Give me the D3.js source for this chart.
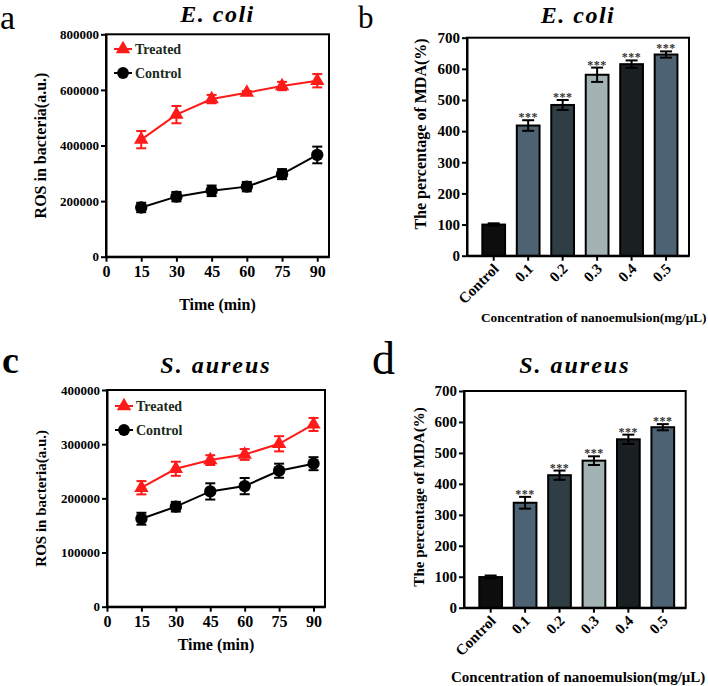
<!DOCTYPE html>
<html><head><meta charset="utf-8">
<script src="https://cdn.jsdelivr.net/npm/d3@7"></script>
<style>body{margin:0;background:#fff}svg{display:block}text{font-family:"Liberation Serif","Times New Roman",serif}</style>
</head><body><svg id="c" width="708" height="686"></svg>
<script>
// ---- data ----
const times = [15, 30, 45, 60, 75, 90];
const timeTicks = [0, 15, 30, 45, 60, 75, 90];
const ecoliTreated = [421000, 511000, 567000, 590000, 614000, 633000];
const ecoliTreatedErr = [31000, 31000, 15000, 6000, 15000, 24000];
const ecoliControl = [177000, 216000, 237000, 252000, 297000, 366000];
const ecoliControlErr = [17000, 17000, 19000, 17000, 18000, 30000];
const saureusTreated = [219600, 254600, 270600, 281000, 300700, 336400];
const saureusTreatedErr = [12300, 13000, 9000, 10000, 14000, 12000];
const saureusControl = [162400, 184600, 212800, 222600, 251000, 264000];
const saureusControlErr = [11000, 9000, 15000, 15000, 13000, 12000];
const ecoliRosTicks = [0, 200000, 400000, 600000, 800000];
const saureusRosTicks = [0, 100000, 200000, 300000, 400000];
const concCategories = ["Control", "0.1", "0.2", "0.3", "0.4", "0.5"];
const ecoliMDA = [100, 418, 484, 581, 615, 646];
const ecoliMDAErr = [4, 17, 16, 23, 12, 10];
const saureusMDA = [99, 339, 428, 475, 544, 583];
const saureusMDAErr = [5, 19, 15, 14, 15, 10];
const mdaTicks = [0, 100, 200, 300, 400, 500, 600, 700];
const barColors = ["#0d0d0d", "#4d6272", "#2f3d44", "#a3b3b3", "#1a1f22", "#4d6272"];
const sig = ["", "***", "***", "***", "***", "***"];

const svg = d3.select("#c");
const RED = "#ff1a1a";
const SERIF = '"Liberation Serif","Times New Roman",serif';

function frame(g, L, R, T, B) {
  g.append("rect").attr("x", L).attr("y", T).attr("width", R - L).attr("height", B - T)
    .attr("fill", "none").attr("stroke", "#000").attr("stroke-width", 2);
}

function styleAxis(a, size) {
  a.attr("font-family", SERIF);
  a.select(".domain").attr("stroke-width", 2);
  a.selectAll(".tick line").attr("stroke-width", 2);
  a.selectAll("text").attr("font-size", size).attr("font-weight", "bold").attr("fill", "#000");
}

function lineChart(o) {
  const g = svg.append("g");
  const x = d3.scaleLinear().domain([0, 95]).range([o.L, o.R]);
  const y = d3.scaleLinear().domain([0, o.ymax]).range([o.B, o.T]);
  frame(g, o.L, o.R, o.T, o.B);
  const ya = g.append("g").attr("transform", `translate(${o.L},0)`)
    .call(d3.axisLeft(y).tickValues(o.yticks).tickFormat(d3.format("d")).tickSize(5).tickSizeOuter(0).tickPadding(2));
  const xa = g.append("g").attr("transform", `translate(0,${o.B})`)
    .call(d3.axisBottom(x).tickValues(timeTicks).tickSize(5).tickSizeOuter(0).tickPadding(4));
  styleAxis(ya, 13);
  styleAxis(xa, 16);

  const series = [
    {v: o.control, e: o.controlErr, c: "#000", m: "circle"},
    {v: o.treated, e: o.treatedErr, c: RED, m: "triangle"}
  ];
  series.forEach(s => {
    const pts = times.map((t, i) => ({t, v: s.v[i], e: s.e[i]}));
    g.append("path").datum(pts).attr("fill", "none").attr("stroke", s.c).attr("stroke-width", 2)
      .attr("d", d3.line().x(d => x(d.t)).y(d => y(d.v)));
    const eg = g.append("g").attr("stroke", s.c).attr("stroke-width", 2);
    pts.forEach(d => {
      const cx = x(d.t), y1 = y(d.v + d.e), y2 = y(d.v - d.e);
      eg.append("line").attr("x1", cx).attr("x2", cx).attr("y1", y1).attr("y2", y2);
      eg.append("line").attr("x1", cx - 5).attr("x2", cx + 5).attr("y1", y1).attr("y2", y1);
      eg.append("line").attr("x1", cx - 5).attr("x2", cx + 5).attr("y1", y2).attr("y2", y2);
    });
    const sym = d3.symbol().type(s.m === "circle" ? d3.symbolCircle : d3.symbolTriangle).size(s.m === "circle" ? 120 : 90);
    g.selectAll(null).data(pts).enter().append("path").attr("d", sym)
      .attr("transform", d => `translate(${x(d.t)},${y(d.v)})`).attr("fill", s.c);
  });

  // legend
  const leg = [
    {label: "Treated", c: RED, m: d3.symbolTriangle, sz: 90, y: o.legY},
    {label: "Control", c: "#000", m: d3.symbolCircle, sz: 110, y: o.legY + 24}
  ];
  leg.forEach(l => {
    g.append("line").attr("x1", o.L + 8).attr("x2", o.L + 26).attr("y1", l.y).attr("y2", l.y).attr("stroke", l.c).attr("stroke-width", 2);
    g.append("path").attr("d", d3.symbol().type(l.m).size(l.sz)).attr("transform", `translate(${o.L + 17},${l.y})`).attr("fill", l.c);
    g.append("text").attr("x", o.L + 29).attr("y", l.y + 5).attr("font-size", 14).attr("font-weight", "bold").attr("fill", "#1a2a1a").text(l.label);
  });

  g.append("text").attr("x", (o.L + o.R) / 2).attr("y", o.titleY).attr("text-anchor", "middle")
    .attr("font-size", 24).attr("font-weight", "bold").attr("font-style", "italic").attr("letter-spacing", o.ls)
    .text(o.title);
  g.append("text").attr("transform", `translate(${o.ylabX},${(o.T + o.B) / 2}) rotate(-90)`).attr("text-anchor", "middle")
    .attr("font-size", o.ylabSize).attr("font-weight", "bold").text("ROS in bacteria(a.u.)");
  g.append("text").attr("x", (o.L + o.R) / 2).attr("y", o.xlabY).attr("text-anchor", "middle")
    .attr("font-size", 16).attr("font-weight", "bold").text("Time (min)");
}

function barChart(o) {
  const g = svg.append("g");
  const x = d3.scaleBand().domain(concCategories).range([o.L, o.R]).paddingInner(0.34).paddingOuter(0.39).align(0.57);
  const y = d3.scaleLinear().domain([0, 700]).range([o.B, o.T]);
  frame(g, o.L, o.R, o.T, o.B);
  g.selectAll(null).data(concCategories).enter().append("rect")
    .attr("x", d => x(d)).attr("width", x.bandwidth())
    .attr("y", (d, i) => y(o.vals[i])).attr("height", (d, i) => o.B - y(o.vals[i]))
    .attr("fill", (d, i) => barColors[i]).attr("stroke", "#000").attr("stroke-width", 2);
  const eg = g.append("g").attr("stroke", "#000").attr("stroke-width", 2);
  concCategories.forEach((c, i) => {
    const cx = x(c) + x.bandwidth() / 2, y1 = y(o.vals[i] + o.errs[i]), y2 = y(o.vals[i] - o.errs[i]);
    eg.append("line").attr("x1", cx).attr("x2", cx).attr("y1", y1).attr("y2", y2);
    eg.append("line").attr("x1", cx - 6).attr("x2", cx + 6).attr("y1", y1).attr("y2", y1);
    eg.append("line").attr("x1", cx - 6).attr("x2", cx + 6).attr("y1", y2).attr("y2", y2);
    if (sig[i]) g.append("text").attr("x", cx).attr("y", y1 + 1).attr("text-anchor", "middle")
      .attr("font-size", 12).attr("font-weight", "bold").attr("fill", "#333").attr("letter-spacing", 0.5).text(sig[i]);
  });
  const ya = g.append("g").attr("transform", `translate(${o.L},0)`)
    .call(d3.axisLeft(y).tickValues(mdaTicks).tickSize(5).tickSizeOuter(0).tickPadding(2));
  const xa = g.append("g").attr("transform", `translate(0,${o.B})`)
    .call(d3.axisBottom(x).tickSize(5).tickSizeOuter(0));
  styleAxis(ya, 15);
  styleAxis(xa, 15);
  xa.selectAll("text").attr("text-anchor", "end").attr("dy", 0).attr("y", 0)
    .attr("transform", "translate(6,14) rotate(-45)");

  g.append("text").attr("x", (o.L + o.R) / 2).attr("y", o.titleY).attr("text-anchor", "middle")
    .attr("font-size", 24).attr("font-weight", "bold").attr("font-style", "italic").attr("letter-spacing", o.ls)
    .text(o.title);
  g.append("text").attr("transform", `translate(${o.ylabX},${o.ylabC}) rotate(-90)`).attr("text-anchor", "middle")
    .attr("font-size", o.ylabSize).attr("font-weight", "bold").text("The percentage of MDA(%)");
  g.append("text").attr("x", o.xlabX).attr("y", o.xlabY).attr("text-anchor", "start")
    .attr("font-size", o.xlabSize).attr("font-weight", "bold").text("Concentration of nanoemulsion(mg/μL)");
}

lineChart({L: 106, R: 329, T: 34.3, B: 256.7, ymax: 800000, yticks: ecoliRosTicks,
  treated: ecoliTreated, treatedErr: ecoliTreatedErr, control: ecoliControl, controlErr: ecoliControlErr,
  legY: 49, title: "E. coli", titleY: 22, ls: 1.5, ylabX: 46, ylabSize: 16, xlabY: 310});
lineChart({L: 107, R: 325, T: 390, B: 606.7, ymax: 400000, yticks: saureusRosTicks,
  treated: saureusTreated, treatedErr: saureusTreatedErr, control: saureusControl, controlErr: saureusControlErr,
  legY: 406, title: "S. aureus", titleY: 373, ls: 2, ylabX: 46, ylabSize: 15, xlabY: 650});
barChart({L: 467, R: 689, T: 37.7, B: 255.7, vals: ecoliMDA, errs: ecoliMDAErr,
  title: "E. coli", titleY: 23, ls: 1.5, ylabX: 426, ylabC: 134, ylabSize: 16, xlabX: 481, xlabY: 322, xlabSize: 13.3});
barChart({L: 464, R: 685.7, T: 391, B: 607.7, vals: saureusMDA, errs: saureusMDAErr,
  title: "S. aureus", titleY: 373, ls: 2, ylabX: 424, ylabC: 497, ylabSize: 15, xlabX: 451, xlabY: 682, xlabSize: 15});

// panel letters
svg.append("text").attr("x", 0).attr("y", 29).attr("font-size", 34).text("a");
svg.append("text").attr("x", 358).attr("y", 28).attr("font-size", 31).text("b");
svg.append("text").attr("x", 2).attr("y", 373).attr("font-size", 38).attr("font-weight", "bold").text("c");
svg.append("text").attr("x", 372).attr("y", 374).attr("font-size", 46).text("d");
</script></body></html>
